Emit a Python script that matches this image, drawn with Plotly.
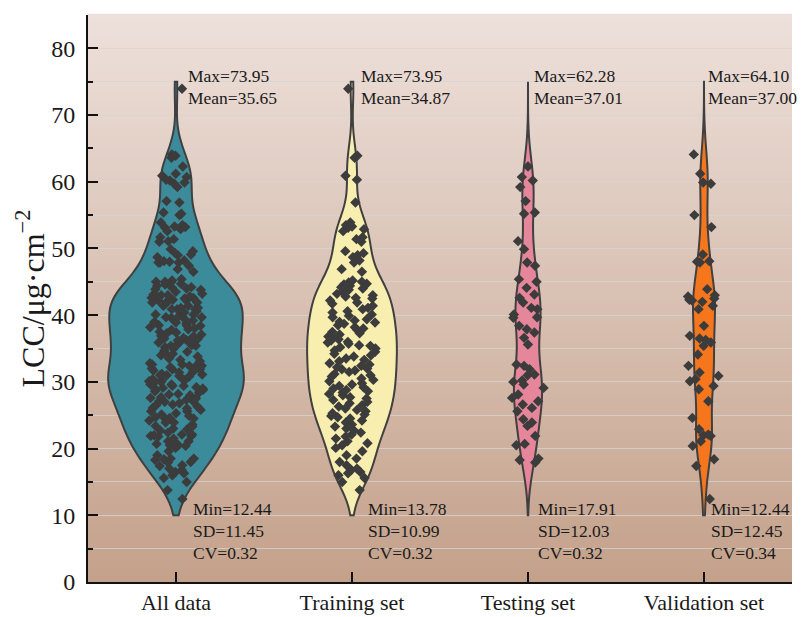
import plotly.graph_objects as go

categories = ["All data", "Training set", "Testing set", "Validation set"]

training = [73.95, 63.9, 63.6, 60.9, 60.3, 56.9, 53.9, 53.5, 53.3, 53.1, 52.9, 52.6, 51.7, 51.4, 51.0,
            49.6, 49.3, 49.0, 48.7, 48.2, 47.9, 46.9, 46.5, 44.9, 44.6, 44.2,
            45.2, 45.0, 44.7, 44.4, 44.0, 43.8, 43.5, 43.2, 43.0, 42.8, 42.6, 42.5,
            42.2, 41.9, 41.7, 41.4, 41.1, 40.9, 40.6, 40.4, 40.1, 39.9, 39.7, 39.4, 39.2, 39.0, 38.9,
            38.7, 38.5, 38.2, 38.0, 37.8, 37.5, 37.3, 37.1, 36.8, 36.6, 36.4, 36.2, 36.0, 35.9, 35.7, 35.5, 35.4,
            35.2, 35.0, 34.7, 34.5, 34.2, 34.0, 33.8, 33.5, 33.3, 33.1, 32.8, 32.6, 32.4, 32.2, 32.0, 31.9,
            31.7, 31.5, 31.2, 31.0, 30.8, 30.5, 30.3, 30.1, 29.8, 29.6, 29.4, 29.2, 29.0, 28.8, 28.6, 28.4,
            28.2, 28.0, 27.7, 27.5, 27.3, 27.0, 26.8, 26.5, 26.3, 26.0, 25.8, 25.6, 25.3, 25.1, 24.9, 24.7, 24.5,
            24.2, 23.9, 23.6, 23.3, 23.0, 22.7, 22.4, 22.1, 21.8, 21.5, 21.1, 20.8, 20.5,
            20.1, 19.6, 19.0, 18.5, 18.0, 17.5, 17.0,
            16.8, 16.5, 16.3, 16.0, 15.6, 15.0, 13.78]

testing = [62.28, 60.7, 60.2, 59.2, 57.1, 55.4, 55.2, 51.1, 49.9, 47.9, 47.4, 45.4, 45.0, 44.1, 43.1,
           42.6, 41.9, 41.1, 40.9, 40.1, 39.7, 39.6, 38.4, 37.9, 37.4, 36.6, 35.6, 32.6, 32.4, 31.9,
           31.1, 31.0, 30.2, 30.0, 29.6, 29.1, 28.1, 27.6, 27.1, 26.6, 26.1, 25.6, 24.4, 23.9, 23.4,
           21.9, 20.7, 20.5, 18.5, 18.3, 17.91]

validation = [64.10, 61.2, 59.9, 59.7, 55.0, 53.2, 49.1, 48.1, 47.9, 48.0, 43.9, 43.0, 42.8, 42.5,
              42.3, 42.2, 42.0, 41.4, 40.9, 38.4, 36.9, 36.5, 36.3, 35.9, 35.4, 34.1, 32.4, 31.4,
              30.9, 30.4, 30.1, 29.4, 28.9, 27.1, 24.6, 22.9, 22.1, 22.0, 21.9, 21.1, 20.4, 18.4,
              17.4, 12.44]

all_data = training + testing + validation

max_labels = ["73.95", "73.95", "62.28", "64.10"]
mean_labels = ["35.65", "34.87", "37.01", "37.00"]
min_labels = ["12.44", "13.78", "17.91", "12.44"]
sd_labels = ["11.45", "10.99", "12.03", "12.45"]
cv_labels = ["0.32", "0.32", "0.32", "0.34"]

y_title = "LCC/μg·cm<sup>−2</sup>"

fill_colors = ["#3b8b9a", "#f7eeb0", "#e5869a", "#f5761c"]
violin_widths = [0.77, 0.51, 0.16, 0.125]
jitters = [0.4, 0.38, 0.26, 0.28]
bandwidths = [2.9, 2.9, 3.6, 3.6]
top_shift = [10, 7, 4, 2]
bottom_shift = [15, 14, 8, 5]
series = [all_data, training, testing, validation]

FONT = "Liberation Serif, Times New Roman, serif"

fig = go.Figure()
# violin bodies
for cat, vals, col, w, bw in zip(categories, series, fill_colors, violin_widths, bandwidths):
    fig.add_trace(go.Violin(
        x=[cat] * len(vals), y=vals, name=cat,
        fillcolor=col, line=dict(color="#404040", width=2),
        points=False, spanmode="manual", span=[10, 75], bandwidth=bw,
        scalemode="width", width=w,
        box_visible=False, meanline_visible=False, showlegend=False, hoverinfo="skip",
    ))
# scatter points (invisible violin with fixed width so the jitter is in comparable pixels)
for cat, vals, jit in zip(categories, series, jitters):
    fig.add_trace(go.Violin(
        x=[cat] * len(vals), y=vals, name=cat + " points",
        fillcolor="rgba(0,0,0,0)", line=dict(color="rgba(0,0,0,0)", width=0),
        points="all", pointpos=0, jitter=jit,
        marker=dict(symbol="diamond", size=8, color="#3c3c3c", line=dict(width=0)),
        spanmode="manual", span=[10, 75], width=0.77,
        box_visible=False, meanline_visible=False, showlegend=False, hoveron="points",
    ))

# background vertical gradient
top = (237, 224, 218)
bot = (196, 161, 139)
N = 80
shapes = []
for k in range(N):
    t = (k + 0.5) / N
    c = tuple(int(round(bot[j] + (top[j] - bot[j]) * t)) for j in range(3))
    shapes.append(dict(type="rect", xref="paper", yref="paper", x0=0, x1=1,
                       y0=k / N, y1=(k + 1) / N + 0.002, line=dict(width=0),
                       fillcolor="rgb(%d,%d,%d)" % c, layer="below"))

annos = []
for i, cat in enumerate(categories):
    for y, txt, xs in [(75.9, "Max=" + max_labels[i], top_shift[i]),
                       (72.6, "Mean=" + mean_labels[i], top_shift[i]),
                       (11.0, "Min=" + min_labels[i], bottom_shift[i]),
                       (7.7, "SD=" + sd_labels[i], bottom_shift[i]),
                       (4.4, "CV=" + cv_labels[i], bottom_shift[i])]:
        annos.append(dict(x=cat, y=y, xref="x", yref="y", text=txt, showarrow=False,
                          xanchor="left", yanchor="middle", xshift=xs,
                          font=dict(family=FONT, size=17.5, color="#1a1a1a")))
# y-axis title
annos.append(dict(x=-0.0824, y=0.5, xref="paper", yref="paper", text=y_title, showarrow=False,
                  textangle=-90, xanchor="center", yanchor="middle",
                  font=dict(family=FONT, size=32, color="#1a1a1a")))

fig.update_layout(
    width=802, height=617, autosize=False,
    margin=dict(l=88, r=10, t=15, b=35),
    paper_bgcolor="white", plot_bgcolor="rgba(0,0,0,0)",
    violinmode="overlay",
    shapes=shapes, annotations=annos,
    font=dict(family=FONT, color="#1a1a1a"),
    xaxis=dict(type="category", categoryorder="array", categoryarray=categories,
               range=[-0.5, 3.5], showline=True, linecolor="#111", linewidth=2,
               ticks="inside", ticklen=10, tickwidth=2, tickcolor="#111",
               showgrid=False, zeroline=False, tickfont=dict(family=FONT, size=22),
               ticklabelstandoff=0, automargin=False),
    yaxis=dict(range=[0, 85], dtick=10, tick0=0, showline=True, linecolor="#111", linewidth=2,
               ticks="inside", ticklen=10, tickwidth=2, tickcolor="#111",
               showgrid=True, gridcolor="rgba(215,212,212,0.75)", gridwidth=1,
               zeroline=False, tickfont=dict(family=FONT, size=24), ticksuffix="\u00a0",
               automargin=False,
               minor=dict(dtick=5, tick0=0, ticks="inside", ticklen=5, tickwidth=2, tickcolor="#111",
                          showgrid=True, gridcolor="rgba(215,212,212,0.75)", gridwidth=1)),
)

fig.write_html("out.html", config={"displayModeBar": False},
               post_script="document.body.style.margin='0';")
